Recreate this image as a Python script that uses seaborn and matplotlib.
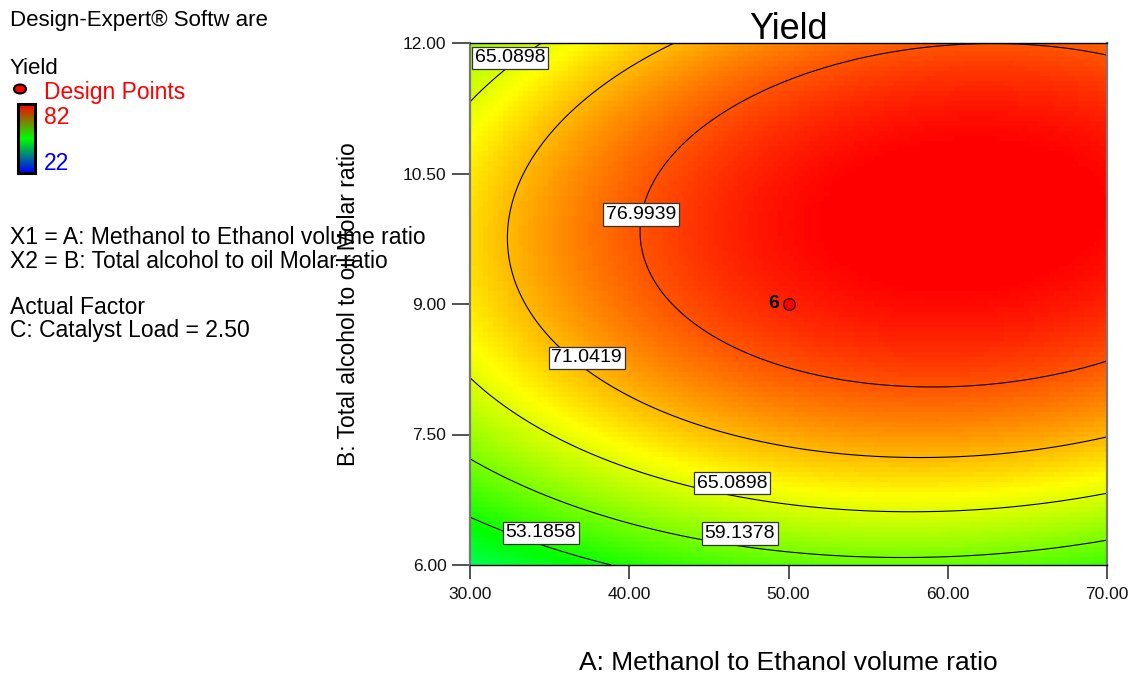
import numpy as np
import matplotlib
matplotlib.use("Agg")
import matplotlib.pyplot as plt
from matplotlib.colors import ListedColormap, LinearSegmentedColormap, hsv_to_rgb
import seaborn as sns
import pandas as pd

# Factor ranges (actual units)
methanol_range = [30.0, 70.0]   # A: Methanol to Ethanol volume ratio
molar_range = [6.0, 12.0]       # B: Total alcohol to oil Molar ratio
catalyst_load = 2.50            # C held constant

# Quadratic model in coded factors (a, b in -1..1)
coef_intercept = 79.93
coef_a = 5.88
coef_b = 8.59
coef_ab = 1.70
coef_aa = -5.90
coef_bb = -14.00

# Contour levels drawn on the surface, with where each label box sits
contour_levels = [53.1858, 59.1378, 65.0898, 71.0419, 76.9939]
label_spots = [(34.46, 6.37), (46.95, 6.36), (46.45, 6.94), (32.5, 11.83),
               (37.32, 8.38), (40.74, 10.03)]

# Design points
design_a = [50.0]
design_b = [9.0]
design_run = ["6"]

# Colour scale limits
yield_low, yield_high = 22, 82

x_ticks = [30, 40, 50, 60, 70]
y_ticks = [6.0, 7.5, 9.0, 10.5, 12.0]

sns.set_theme(style="white")
plt.rcParams["font.family"] = ["Liberation Sans", "DejaVu Sans"]
plt.rcParams["text.color"] = "black"
plt.rcParams["axes.labelcolor"] = "black"
plt.rcParams["axes.titlecolor"] = "black"

W, H = 1133, 677
fig = plt.figure(figsize=(W / 100, H / 100), dpi=100)
ax = fig.add_axes([470 / W, 1 - 565 / H, 637 / W, 522 / H])


def predict(A, B):
    a = (A - np.mean(methanol_range)) / (np.diff(methanol_range)[0] / 2)
    b = (B - np.mean(molar_range)) / (np.diff(molar_range)[0] / 2)
    return (coef_intercept + coef_a * a + coef_b * b + coef_ab * a * b
            + coef_aa * a ** 2 + coef_bb * b ** 2)


# Surface colouring: hue sweep blue -> green -> yellow -> red
hues = np.linspace(240, 0, 256) / 360.0
surface_cmap = ListedColormap(hsv_to_rgb(np.stack([hues, np.ones(256), np.ones(256)], axis=1)))

ga = np.linspace(*methanol_range, 128)
gb = np.linspace(*molar_range, 105)
GA, GB = np.meshgrid(ga, gb)
Z = predict(GA, GB)
ax.pcolormesh(GA, GB, Z, cmap=surface_cmap, vmin=yield_low, vmax=yield_high,
              shading="nearest", rasterized=True)

fa = np.linspace(*methanol_range, 400)
fb = np.linspace(*molar_range, 400)
FA, FB = np.meshgrid(fa, fb)
cs = ax.contour(FA, FB, predict(FA, FB), levels=contour_levels,
                colors="black", linewidths=0.8)
labels = ax.clabel(cs, inline=False, fmt="%.4f", fontsize=14,
                   manual=label_spots, colors="black")
for t, spot in zip(labels, label_spots):
    t.set_rotation(0)
    t.set_position(spot)
    t.set_bbox(dict(boxstyle="square,pad=0.14", fc="white", ec="#333333", lw=0.9))
    t.set_zorder(5)

# Design point
pts = pd.DataFrame({"A": design_a, "B": design_b, "run": design_run})
sns.scatterplot(data=pts, x="A", y="B", ax=ax, color="red", edgecolor="#300000",
                s=70, linewidth=1.0, zorder=6, legend=False)
for _, r in pts.iterrows():
    ax.annotate(r["run"], (r["A"], r["B"]), xytext=(-7, 0), textcoords="offset points",
                ha="right", va="center", fontsize=14, fontweight="bold", color="black",
                zorder=7)

ax.set_xlim(*methanol_range)
ax.set_ylim(*molar_range)
ax.set_xticks(x_ticks)
ax.set_xticklabels([f"{v:.2f}" for v in x_ticks])
ax.set_yticks(y_ticks)
ax.set_yticklabels([f"{v:.2f}" for v in y_ticks])
ax.tick_params(axis="x", direction="out", length=10, width=1.3, color="#444444",
               pad=6, labelsize=12.5, bottom=True, labelcolor="#111111")
ax.tick_params(axis="y", direction="out", length=13, width=1.3, color="#444444",
               pad=4, labelsize=12.5, left=True, labelcolor="#111111")
for side in ["top", "bottom"]:
    ax.spines[side].set_color("black")
    ax.spines[side].set_linewidth(1.0)
for side in ["left", "right"]:
    ax.spines[side].set_color("#777777")
    ax.spines[side].set_linewidth(1.6)

ax.set_title("Yield", fontsize=26, pad=3)
ax.set_xlabel("A: Methanol to Ethanol volume ratio", fontsize=19)
ax.xaxis.set_label_coords(0.5, -0.165)
ax.set_ylabel("B: Total alcohol to oil Molar ratio", fontsize=16.5)
ax.yaxis.set_label_coords(-0.172, 0.5)


def ftext(x, y, s, **kw):
    fig.text(x / W, 1 - y / H, s, va="center", ha="left", **kw)


ftext(10, 20, "Design-Expert® Softw are", fontsize=16)
ftext(10, 68, "Yield", fontsize=16)
ftext(44, 93, "Design Points", fontsize=16.5, color="red")
ftext(44, 117, str(yield_high), fontsize=16.5, color="red")
ftext(44, 163, str(yield_low), fontsize=16.5, color="blue")
ftext(10, 238, "X1 = A: Methanol to Ethanol volume ratio", fontsize=16.5)
ftext(10, 261, "X2 = B: Total alcohol to oil Molar ratio", fontsize=16.5)
ftext(10, 307, "Actual Factor", fontsize=16.5)
ftext(10, 330, f"C: Catalyst Load = {catalyst_load:.2f}", fontsize=16.5)

# Legend marker and colour bar
fig.add_artist(matplotlib.patches.Ellipse((20 / W, 1 - 89 / H), 12 / W, 9 / H,
                                          transform=fig.transFigure, fc="red",
                                          ec="black", lw=1.5))
cax = fig.add_axes([18 / W, 1 - 173 / H, 17 / W, 69 / H])
legend_cmap = LinearSegmentedColormap.from_list("leg", ["#0000ff", "#00ff00", "#ff0000"])
cax.imshow(np.linspace(1, 0, 100)[:, None], aspect="auto", cmap=legend_cmap)
cax.set_xticks([])
cax.set_yticks([])
for s in cax.spines.values():
    s.set_color("black")
    s.set_linewidth(2.2)

fig.savefig("out.png", dpi=100)
